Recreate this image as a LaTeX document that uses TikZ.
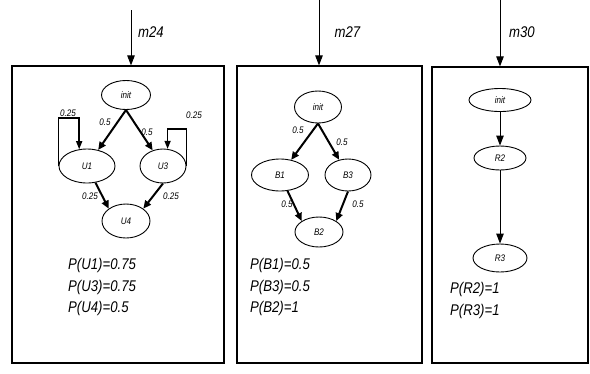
\documentclass[tikz,border=0pt]{standalone}
\usepackage{fontspec}
\setmainfont{Liberation Sans}[FakeStretch=0.85]
\usetikzlibrary{arrows.meta,positioning,shapes.geometric}

\begin{document}
\begin{tikzpicture}[x=1pt,y=-1pt,
        frame/.style={draw,line width=1.2pt,inner sep=0pt},
        st/.style={draw,ellipse,line width=0.9pt,inner sep=0pt,font=\fontsize{9.5}{9.5}\selectfont\itshape},
        trans/.style={-{Triangle[length=8pt,width=7pt]},line width=2pt},
        selfloop/.style={-{Triangle[length=8pt,width=6pt]},line width=1.4pt},
        feed/.style={-{Triangle[length=10pt,width=7.5pt]},line width=0.9pt},
        lbl/.style={font=\fontsize{9.5}{9.5}\selectfont\itshape,inner sep=0pt},
        mlbl/.style={font=\fontsize{15.5}{15.5}\selectfont\itshape,inner sep=0pt},
        prob/.style={font=\fontsize{15.5}{21.5}\selectfont\itshape,align=left,anchor=west,inner sep=0pt}]
    \useasboundingbox (0,0) rectangle (590,373);
    % module m24
    \node[frame,minimum width=212pt,minimum height=297pt] (box1) at (118,214.5) {};
    \coordinate (in1) at (131,10);
    \draw[feed] (in1) -- (in1 |- box1.north);
    \node[mlbl] (m1) at (151,32) {m24};
    \node[st,minimum width=49pt,minimum height=29pt] (init1) at (126,95) {init};
    \node[st,minimum width=56pt,minimum height=34pt] (U1) at (87,166) {U1};
    \node[st,minimum width=46pt,minimum height=34pt] (U3) at (163,166) {U3};
    \node[st,minimum width=48pt,minimum height=34pt] (U4) at (126,221) {U4};
    \draw[trans] (init1.south) -- (U1); \draw[trans] (init1.south) -- (U3);
    \draw[trans] (U1) -- (U4.north west); \draw[trans] (U3.south) -- (U4.north east);
    \draw[selfloop] (U1.west) -- ++(0,-48) -| (U1.115);
    \draw[selfloop] (U3.east) -- ++(0,-37) -| (U3.75);
    \node[lbl] (l1a) at (105,122) {0.5};
    \node[lbl] (l1b) at (147,132) {0.5};
    \node[lbl] (l1c) at (68,113) {0.25};
    \node[lbl] (l1d) at (194,115) {0.25};
    \node[lbl] (l1e) at (90,196) {0.25};
    \node[lbl] (l1f) at (171,196) {0.25};
    \node[prob] (p1) at (68,287) {P(U1)=0.75\\P(U3)=0.75\\P(U4)=0.5};
    % module m27
    \node[frame,minimum width=185pt,minimum height=297pt] (box2) at (329.5,214.5) {};
    \coordinate (in2) at (319,0);
    \draw[feed] (in2) -- (in2 |- box2.north);
    \node[mlbl] (m2) at (347.5,32) {m27};
    \node[st,minimum width=47pt,minimum height=32pt] (init2) at (318,107) {init};
    \node[st,minimum width=57pt,minimum height=32pt] (B1) at (280,175) {B1};
    \node[st,minimum width=46pt,minimum height=32pt] (B3) at (348,175) {B3};
    \node[st,minimum width=48pt,minimum height=30pt] (B2) at (319,232) {B2};
    \draw[trans] (init2.south) -- (B1); \draw[trans] (init2.south) -- (B3);
    \draw[trans] (B1) -- (B2.north west); \draw[trans] (B3.south) -- (B2.north east);
    \node[lbl] (l2a) at (298,130) {0.5};
    \node[lbl] (l2b) at (342,142) {0.5};
    \node[lbl] (l2c) at (287,204) {0.5};
    \node[lbl] (l2d) at (358,204) {0.5};
    \node[prob] (p2) at (250,287) {P(B1)=0.5\\P(B3)=0.5\\P(B2)=1};
    % module m30
    \node[frame,minimum width=156pt,minimum height=296pt] (box3) at (510,215) {};
    \coordinate (in3) at (500,0);
    \draw[feed] (in3) -- (in3 |- box3.north);
    \node[mlbl] (m3) at (522,32) {m30};
    \node[st,minimum width=62pt,minimum height=23pt] (init3) at (500,100) {init};
    \node[st,minimum width=52pt,minimum height=24pt] (R2) at (500,158) {R2};
    \node[st,minimum width=54pt,minimum height=28pt] (R3) at (500,258) {R3};
    \draw[feed] (init3) -- (R2); \draw[feed] (R2) -- (R3);
    \node[prob] (p3) at (450,300.5) {P(R2)=1\\P(R3)=1};
\end{tikzpicture}
\end{document}
